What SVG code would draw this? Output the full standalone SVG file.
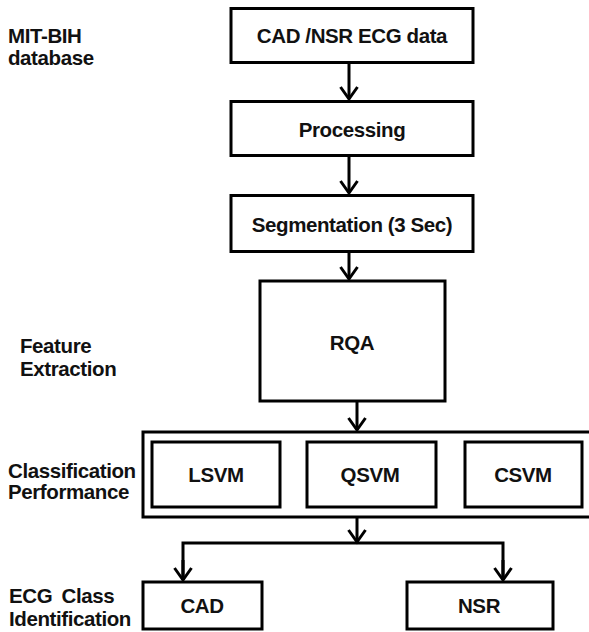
<svg xmlns="http://www.w3.org/2000/svg" width="589" height="632" viewBox="0 0 589 632">
<style>
text{font-family:"Liberation Sans",Arial,sans-serif;font-weight:bold;font-size:20.5px;letter-spacing:-0.4px;fill:#111}
.c{text-anchor:middle}
.box{fill:#fff;stroke:#000;stroke-width:3}
.ln{fill:none;stroke:#000;stroke-width:3}
</style>
<defs>
<marker id="ah" markerUnits="userSpaceOnUse" markerWidth="30" markerHeight="30" refX="0" refY="0" viewBox="-15 -15 30 30" orient="auto" overflow="visible">
<path d="M-12,-8.5 L0,0 L-12,8.5" fill="none" stroke="#000" stroke-width="3"/>
</marker>
</defs>
<rect width="589" height="632" fill="#fff"/>
<g id="labels">
<text x="8" y="43">MIT-BIH</text>
<text x="8" y="65">database</text>
<text x="20" y="353">Feature</text>
<text x="20" y="376">Extraction</text>
<text x="8" y="478">Classification</text>
<text x="8" y="499">Performance</text>
<text x="9" y="603" word-spacing="4">ECG Class</text>
<text x="9" y="626">Identification</text>
</g>
<g id="connectors">
<line class="ln" x1="349" y1="63" x2="349" y2="99" marker-end="url(#ah)"/>
<line class="ln" x1="349" y1="156" x2="349" y2="193" marker-end="url(#ah)"/>
<line class="ln" x1="349" y1="252" x2="349" y2="279" marker-end="url(#ah)"/>
<line class="ln" x1="357" y1="401" x2="357" y2="430" marker-end="url(#ah)"/>
<line class="ln" x1="357" y1="517" x2="357" y2="542" marker-end="url(#ah)"/>
<polyline class="ln" points="183,580 183,543 503,543 503,580"/>
<line class="ln" x1="183" y1="560" x2="183" y2="580" marker-end="url(#ah)"/>
<line class="ln" x1="503" y1="560" x2="503" y2="580" marker-end="url(#ah)"/>
</g>
<g id="n-data"><rect class="box" x="231" y="8.5" width="242" height="54"/><text class="c" x="352" y="43">CAD /NSR ECG data</text></g>
<g id="n-processing"><rect class="box" x="231" y="101.5" width="242" height="54"/><text class="c" x="352" y="137">Processing</text></g>
<g id="n-segmentation"><rect class="box" x="231" y="195.5" width="242" height="56"/><text class="c" x="352" y="232">Segmentation (3 Sec)</text></g>
<g id="n-rqa"><rect class="box" x="260" y="281" width="185" height="120"/><text class="c" x="352" y="350">RQA</text></g>
<g id="n-classifiers">
<rect class="box" x="143" y="432" width="450" height="85"/>
<g id="n-lsvm"><rect class="box" x="152" y="442" width="128" height="65"/><text class="c" x="216" y="482">LSVM</text></g>
<g id="n-qsvm"><rect class="box" x="307" y="442" width="129" height="65"/><text class="c" x="370" y="482">QSVM</text></g>
<g id="n-csvm"><rect class="box" x="465" y="442" width="117" height="65"/><text class="c" x="523" y="482">CSVM</text></g>
</g>
<g id="n-cad"><rect class="box" x="143" y="582" width="119" height="47"/><text class="c" x="202" y="613">CAD</text></g>
<g id="n-nsr"><rect class="box" x="407" y="582" width="146" height="47"/><text class="c" x="479" y="613">NSR</text></g>
</svg>
